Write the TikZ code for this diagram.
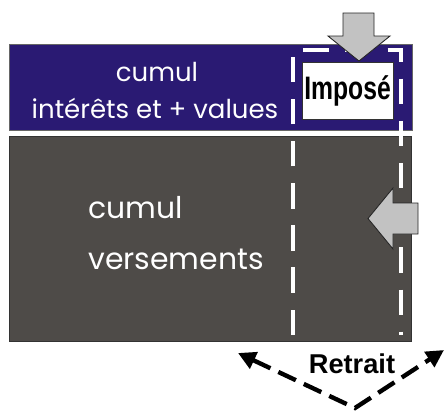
\documentclass[tikz,border=0pt]{standalone}
\usepackage{fontspec}
\setmainfont{Poppins}
\newfontfamily\arialfont{Liberation Sans}
\newfontfamily\narrowfont{Liberation Sans}[FakeStretch=0.76]
\usetikzlibrary{arrows.meta}
\definecolor{cumulblue}{RGB}{42,26,115}
\definecolor{cumulgray}{RGB}{78,75,72}
\definecolor{arrowgray}{RGB}{194,194,194}
\begin{document}
\begin{tikzpicture}[x=0.02cm,y=-0.02cm,
  bluetext/.style={text=white,inner sep=0pt,font=\fontsize{14.8}{16}\selectfont},
  graytext/.style={text=white,inner sep=0pt,align=left,font=\fontsize{17}{29}\selectfont},
  blockarrow/.style={draw=black!85,line width=0.5pt,fill=arrowgray},
  zone/.style={draw=white,line width=2.8pt,dash pattern=on 14.5pt off 9.5pt},
  retrait/.style={draw=black,line width=2.5pt,dash pattern=on 11pt off 5pt}]
\useasboundingbox (0,0) rectangle (447,410);
\path[draw=black!60,fill=cumulblue] (9,44) rectangle (412,130);
\path[draw=black!80,fill=cumulgray] (9,136) rectangle (411,341);
\node[bluetext] (cumul) at (157,72) {cumul};
\node[bluetext] (interets) at (155,108) {intérêts et + values};
\node[graytext,anchor=west] (versements) at (88,233) {cumul\\versements};
\node[draw=black!80,fill=white,line width=0.5pt,minimum width=1.82cm,minimum height=1.14cm,inner sep=0pt,
  font=\narrowfont\bfseries\fontsize{18.5}{20}\selectfont] (impose) at (347.5,90.5) {Imposé};
\path[zone] (293,335) -- (293,50) -- (401,50) -- (401,335);
\path[blockarrow] (343,13) -- (374,13) -- (374,36) -- (390,36) -- (359,61) -- (328,36) -- (343,36) -- cycle;
\path[blockarrow] (418,203) -- (393,203) -- (393,188) -- (368,218.5) -- (393,249) -- (393,234) -- (418,234) -- cycle;
\coordinate (gauche) at (238,353);
\coordinate (bas) at (355,408);
\coordinate (droite) at (444,350);
\path[retrait,{Triangle[length=10pt,width=10pt]}-{Triangle[length=10pt,width=10pt]}] (gauche) -- (bas) -- (droite);
\node[inner sep=0pt,font=\arialfont\bfseries\fontsize{15.5}{17}\selectfont] (retraittxt) at (352,364) {Retrait};
\end{tikzpicture}
\end{document}
